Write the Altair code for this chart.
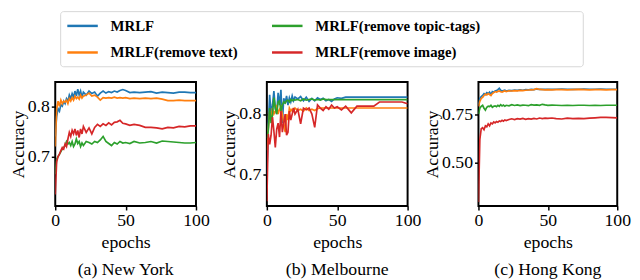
import altair as alt
import pandas as pd

EPOCHS = [0, 1, 2, 3, 4, 5, 6, 7, 8, 9, 10,
          11, 12, 13, 14, 15, 16, 17, 18, 19, 20,
          22, 24, 26, 28, 30, 32, 34, 36, 38, 40, 42, 44, 46, 48, 50,
          53, 56, 60, 64, 68, 72, 76, 80, 84, 88, 92, 96, 100]

SERIES = ["MRLF", "MRLF(remove text)", "MRLF(remove topic-tags)", "MRLF(remove image)"]
COLORS = ["#1f77b4", "#ff7f0e", "#2ca02c", "#d62728"]

# (a) New York
NY_MRLF = [0.74, 0.78, 0.795, 0.79, 0.803, 0.80, 0.81, 0.805, 0.815, 0.81, 0.822,
           0.815, 0.825, 0.818, 0.83, 0.82, 0.834, 0.822, 0.83, 0.818, 0.828,
           0.822, 0.83, 0.825, 0.828, 0.82, 0.826, 0.83, 0.826, 0.829, 0.827, 0.83, 0.828, 0.831, 0.833, 0.831,
           0.827, 0.828, 0.827, 0.828, 0.829, 0.826, 0.828, 0.827, 0.826, 0.828, 0.828, 0.827, 0.827]
NY_TEXT = [0.72, 0.795, 0.81, 0.80, 0.812, 0.805, 0.81, 0.808, 0.812, 0.805, 0.815,
           0.81, 0.817, 0.812, 0.82, 0.815, 0.818, 0.814, 0.822, 0.816, 0.82,
           0.822, 0.826, 0.82, 0.822, 0.818, 0.812, 0.817, 0.816, 0.817, 0.816, 0.818, 0.816, 0.817, 0.816, 0.817,
           0.815, 0.816, 0.815, 0.816, 0.815, 0.816, 0.814, 0.811, 0.811, 0.812, 0.811, 0.811, 0.811]
NY_TAGS = [0.665, 0.695, 0.70, 0.705, 0.71, 0.715, 0.718, 0.722, 0.73, 0.725, 0.728,
           0.722, 0.73, 0.72, 0.725, 0.735, 0.726, 0.73, 0.72, 0.727, 0.722,
           0.73, 0.728, 0.725, 0.73, 0.728, 0.733, 0.74, 0.73, 0.726, 0.722, 0.728, 0.725, 0.73, 0.727, 0.728,
           0.726, 0.73, 0.727, 0.728, 0.73, 0.727, 0.731, 0.73, 0.729, 0.728, 0.727, 0.727, 0.728]
NY_IMAGE = [0.625, 0.69, 0.70, 0.705, 0.712, 0.718, 0.715, 0.725, 0.72, 0.735, 0.748,
            0.74, 0.752, 0.745, 0.755, 0.742, 0.752, 0.738, 0.755, 0.745, 0.76,
            0.748, 0.757, 0.745, 0.758, 0.764, 0.76, 0.765, 0.762, 0.767, 0.763, 0.768, 0.769, 0.772, 0.766, 0.765,
            0.762, 0.764, 0.762, 0.758, 0.758, 0.757, 0.755, 0.758, 0.757, 0.76, 0.759, 0.761, 0.761]

# (b) Melbourne
MEL_MRLF = [0.70, 0.78, 0.832, 0.80, 0.815, 0.838, 0.81, 0.80, 0.835, 0.815, 0.84,
            0.785, 0.826, 0.818, 0.83, 0.815, 0.827, 0.82, 0.83, 0.822, 0.828,
            0.825, 0.829, 0.822, 0.828, 0.821, 0.826, 0.822, 0.827, 0.824, 0.826, 0.822, 0.824, 0.821, 0.825, 0.827,
            0.826, 0.828, 0.828, 0.828, 0.828, 0.828, 0.828, 0.828, 0.828, 0.828, 0.828, 0.828, 0.828]
MEL_TEXT = [0.74, 0.775, 0.805, 0.79, 0.81, 0.80, 0.805, 0.815, 0.80, 0.808, 0.812,
            0.80, 0.785, 0.77, 0.80, 0.79, 0.81, 0.805, 0.808, 0.805, 0.81,
            0.806, 0.808, 0.805, 0.81, 0.806, 0.808, 0.806, 0.809, 0.81, 0.81, 0.81, 0.81, 0.81, 0.81, 0.81,
            0.81, 0.81, 0.81, 0.81, 0.81, 0.81, 0.81, 0.81, 0.81, 0.81, 0.81, 0.81, 0.81]
MEL_TAGS = [0.76, 0.773, 0.81, 0.785, 0.80, 0.827, 0.81, 0.80, 0.82, 0.822, 0.805,
            0.815, 0.82, 0.818, 0.822, 0.823, 0.82, 0.824, 0.822, 0.824, 0.823,
            0.824, 0.822, 0.825, 0.823, 0.824, 0.825, 0.823, 0.824, 0.823, 0.825, 0.824, 0.824, 0.824, 0.824, 0.824,
            0.824, 0.824, 0.824, 0.824, 0.824, 0.824, 0.824, 0.824, 0.824, 0.824, 0.824, 0.824, 0.824]
MEL_IMAGE = [0.656, 0.767, 0.75, 0.765, 0.795, 0.772, 0.745, 0.775, 0.785, 0.762, 0.805,
             0.77, 0.785, 0.80, 0.765, 0.77, 0.805, 0.79, 0.80, 0.81, 0.80,
             0.808, 0.784, 0.81, 0.807, 0.81, 0.80, 0.778, 0.815, 0.81, 0.806, 0.812, 0.808, 0.815, 0.81, 0.812,
             0.807, 0.813, 0.802, 0.813, 0.813, 0.813, 0.813, 0.82, 0.82, 0.82, 0.82, 0.82, 0.817]

# (c) Hong Kong
HK_MRLF = [0.80, 0.83, 0.84, 0.845, 0.855, 0.85, 0.86, 0.855, 0.862, 0.85, 0.865,
           0.862, 0.868, 0.87, 0.875, 0.882, 0.872, 0.868, 0.87, 0.872, 0.868,
           0.871, 0.87, 0.873, 0.871, 0.874, 0.872, 0.875, 0.874, 0.876, 0.875, 0.878, 0.876, 0.877, 0.876, 0.877,
           0.876, 0.877, 0.878, 0.877, 0.876, 0.877, 0.878, 0.877, 0.877, 0.878, 0.877, 0.877, 0.877]
HK_TEXT = [0.79, 0.815, 0.83, 0.835, 0.845, 0.852, 0.848, 0.855, 0.85, 0.845, 0.855,
           0.86, 0.865, 0.862, 0.866, 0.868, 0.864, 0.862, 0.866, 0.868, 0.865,
           0.869, 0.868, 0.87, 0.869, 0.871, 0.87, 0.872, 0.873, 0.874, 0.875, 0.88, 0.876, 0.875, 0.874, 0.875,
           0.874, 0.875, 0.875, 0.874, 0.875, 0.876, 0.875, 0.874, 0.875, 0.875, 0.874, 0.875, 0.875]
HK_TAGS = [0.75, 0.78, 0.79, 0.795, 0.78, 0.77, 0.785, 0.79, 0.788, 0.795, 0.785,
           0.79, 0.792, 0.788, 0.795, 0.79, 0.798, 0.792, 0.796, 0.79, 0.795,
           0.792, 0.798, 0.794, 0.797, 0.793, 0.796, 0.795, 0.793, 0.798, 0.796, 0.797, 0.795, 0.80, 0.797, 0.795,
           0.796, 0.795, 0.794, 0.795, 0.794, 0.795, 0.795, 0.794, 0.795, 0.794, 0.795, 0.795, 0.795]
HK_IMAGE = [0.30, 0.62, 0.675, 0.68, 0.67, 0.69, 0.685, 0.70, 0.69, 0.705, 0.70,
            0.71, 0.705, 0.712, 0.708, 0.715, 0.712, 0.718, 0.714, 0.72, 0.717,
            0.722, 0.726, 0.722, 0.727, 0.724, 0.728, 0.723, 0.727, 0.724, 0.728, 0.725, 0.73, 0.727, 0.729, 0.728,
            0.73, 0.727, 0.725, 0.729, 0.727, 0.728, 0.727, 0.729, 0.731, 0.733, 0.733, 0.732, 0.731]


def make_df(series_lists):
    rows = []
    for name, vals in zip(SERIES, series_lists):
        for e, v in zip(EPOCHS, vals):
            rows.append({"epoch": e, "acc": v, "series": name})
    return pd.DataFrame(rows)


SERIF = "Liberation Serif"
# non-breaking spaces closed by a zero-width char so they are not trimmed (widens the legend frame)
PAD = "\u00a0" * 26 + "\u200b"
legend = alt.Legend(
    title=None, orient="none", legendX=5, legendY=-72, columns=2,
    symbolType="M-2,0H2", symbolSize=240, symbolStrokeWidth=2.5, symbolOffset=7.75,
    labelFont=SERIF, labelFontSize=15, labelFontWeight="bold", labelColor="black",
    labelOffset=19.5, columnPadding=29, rowPadding=10, padding=6,
    strokeColor="#d6d6d6", cornerRadius=3, fillColor="white", labelLimit=500,
    labelExpr="datum.label == 'MRLF(remove topic-tags)' ? datum.label + '" + PAD + "' : datum.label",
)


def panel(series_lists, ydom, yticks, fmt, caption, width):
    return alt.Chart(make_df(series_lists)).mark_line(strokeWidth=1.7, clip=True).encode(
        x=alt.X("epoch:Q", scale=alt.Scale(domain=[0, 100], nice=False),
                axis=alt.Axis(values=[0, 50, 100], title="epochs", labelFlush=False,
                              labelFont=SERIF, titleFont=SERIF, labelFontSize=18, titleFontSize=18,
                              titleFontWeight="normal", labelPadding=2, titlePadding=4)),
        y=alt.Y("acc:Q", scale=alt.Scale(domain=ydom, nice=False, zero=False),
                axis=alt.Axis(values=yticks, format=fmt, title="Accuracy",
                              labelFont=SERIF, titleFont=SERIF, labelFontSize=18, titleFontSize=18,
                              titleFontWeight="normal", labelPadding=2, titlePadding=0)),
        color=alt.Color("series:N", scale=alt.Scale(domain=SERIES, range=COLORS), legend=legend),
    ).properties(
        width=width, height=126,
        title=alt.TitleParams(caption, orient="bottom", offset=10),
    )


a = panel([NY_MRLF, NY_TEXT, NY_TAGS, NY_IMAGE], [0.602, 0.848], [0.7, 0.8], ".1f", "(a) New York", 143)
b = panel([MEL_MRLF, MEL_TEXT, MEL_TAGS, MEL_IMAGE], [0.648, 0.853], [0.7, 0.8], ".1f", "(b) Melbourne", 143)
c = panel([HK_MRLF, HK_TEXT, HK_TAGS, HK_IMAGE], [0.28, 0.914], [0.5, 0.75], ".2f", "(c) Hong Kong", 141)

chart = alt.hconcat(a, b, c, spacing=72, bounds="flush").properties(
    padding=0
).configure(
    font=SERIF
).configure_view(
    stroke="black", strokeWidth=2
).configure_axis(
    labelFont=SERIF, labelFontSize=18, labelColor="black",
    titleFont=SERIF, titleFontSize=18, titleFontWeight="normal", titleColor="black",
    domain=False, grid=False, tickColor="black", tickSize=4, tickWidth=1.5,
).configure_title(
    font=SERIF, fontSize=18, fontWeight="normal", color="black",
)

chart.save("out.html", embed_options={"renderer": "svg", "actions": False})
